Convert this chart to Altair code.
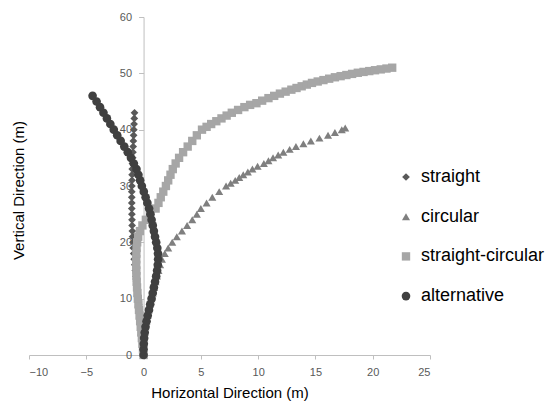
import altair as alt
import pandas as pd

series_names = ["straight", "circular", "straight-circular", "alternative"]
series_colors = ["#595959", "#7f7f7f", "#a6a6a6", "#404040"]
series_shapes = ["diamond", "triangle-up", "square", "circle"]
series_sizes = [60, 75, 120, 115]

x_ticks = [-10, -5, 0, 5, 10, 15, 20, 25]
y_ticks = [0, 10, 20, 30, 40, 50, 60]

straight_x = [0.00, -0.04, -0.08, -0.12, -0.17, -0.22, -0.27, -0.32, -0.37, -0.42,
              -0.47, -0.52, -0.57, -0.62, -0.67, -0.72, -0.77, -0.82, -0.86, -0.90,
              -0.93, -0.96, -0.98, -1.00, -1.01, -1.02, -1.03, -1.03, -1.03, -1.03,
              -1.02, -1.01, -1.00, -0.99, -0.97, -0.95, -0.93, -0.91, -0.89, -0.87,
              -0.85, -0.83, -0.81, -0.79]
straight_y = [0, 1, 2, 3, 4, 5, 6, 7, 8, 9, 10, 11, 12, 13, 14, 15, 16, 17, 18, 19,
              20, 21, 22, 23, 24, 25, 26, 27, 28, 29, 30, 31, 32, 33, 34, 35, 36, 37,
              38, 39, 40, 41, 42, 43]

circular_x = [0.0, 0.01, 0.03, 0.06, 0.1, 0.17, 0.25, 0.35, 0.45, 0.56, 0.68, 0.8,
              0.92, 1.04, 1.17, 1.3, 1.45, 1.6, 1.85, 2.15, 2.5, 2.9, 3.35, 3.8, 4.25,
              4.65, 5.0, 5.5, 6.0, 6.6, 7.2, 7.6, 8.0, 8.35, 8.7, 9.1, 9.5, 9.95, 10.5,
              10.9, 11.3, 11.75, 12.2, 12.75, 13.3, 13.95, 14.6, 15.35, 16.1, 16.7,
              17.3, 17.6]
circular_y = [0, 1, 2, 3, 4, 5, 6, 7, 8, 9, 10, 11, 12, 13, 14, 15, 16, 17, 18, 19,
              20, 21, 22, 23, 24, 25, 26, 27, 28, 29, 30, 30.5, 31, 31.5, 32, 32.5, 33,
              33.5, 34, 34.5, 35, 35.5, 36, 36.5, 37, 37.5, 38, 38.5, 39, 39.5, 40,
              40.3]

sc_x = [0.0, -0.05, -0.1, -0.15, -0.2, -0.25, -0.3, -0.35, -0.4, -0.45, -0.5, -0.54,
        -0.57, -0.6, -0.62, -0.63, -0.64, -0.64, -0.63, -0.61, -0.56, -0.47, -0.32,
        -0.1, 0.2, 0.55, 1.05, 1.3, 1.5, 1.72, 1.95, 2.15, 2.35, 2.55, 2.8, 3.1, 3.45,
        3.85, 4.25, 4.65, 5.1, 5.5, 5.9, 6.35, 6.8, 7.25, 7.7, 8.25, 8.8, 9.3, 9.85,
        10.35, 10.9, 11.4, 11.9, 12.4, 12.9, 13.35, 13.8, 14.25, 14.7, 15.2, 15.7,
        16.2, 16.7, 17.2, 17.7, 18.2, 18.7, 19.2, 19.7, 20.2, 20.7, 21.2, 21.7]
sc_y = [0, 1, 2, 3, 4, 5, 6, 7, 8, 9, 10, 11, 12, 13, 14, 15, 16, 17, 18, 19, 20, 21,
        22, 23, 24, 25, 26, 27, 28, 29, 30, 31, 32, 33, 34, 35, 36, 37, 38, 39, 40,
        40.5, 41, 41.5, 42, 42.5, 43, 43.5, 44, 44.4, 44.7, 45.15, 45.6, 46.0, 46.4,
        46.75, 47.1, 47.4, 47.7, 48.0, 48.3, 48.55, 48.8, 49.05, 49.3, 49.5, 49.7,
        49.9, 50.1, 50.25, 50.4, 50.55, 50.7, 50.85, 51.0]

alt_x = [0.0, 0.0, 0.02, 0.05, 0.1, 0.17, 0.26, 0.36, 0.47, 0.58, 0.7, 0.8, 0.9, 1.0,
         1.1, 1.18, 1.24, 1.27, 1.26, 1.2, 1.1, 1.0, 0.9, 0.8, 0.7, 0.6, 0.48, 0.33,
         0.18, 0.02, -0.15, -0.3, -0.45, -0.62, -0.85, -1.1, -1.38, -1.68, -2.0, -2.3,
         -2.6, -2.9, -3.2, -3.5, -3.8, -4.1, -4.45]
alt_y = [0, 1, 2, 3, 4, 5, 6, 7, 8, 9, 10, 11, 12, 13, 14, 15, 16, 17, 18, 19, 20, 21,
         22, 23, 24, 25, 26, 27, 28, 29, 30, 31, 32, 33, 34, 35, 36, 37, 38, 39, 40, 41,
         42, 43, 44, 45, 46]

rows = []
k = 0
for name, xs, ys in zip(series_names,
                        [straight_x, circular_x, sc_x, alt_x],
                        [straight_y, circular_y, sc_y, alt_y]):
    for xv, yv in zip(xs, ys):
        rows.append({"series": name, "marker": name, "x": xv, "y": yv, "k": k})
        k += 1
df = pd.DataFrame(rows)

W, H = 401, 338
y_offset = -W * 10 / 35

legend_cfg = alt.Legend(
    title=None, orient="none", legendX=368, legendY=151, padding=0,
    labelFont="Liberation Sans", labelFontSize=18, labelColor="#000000",
    labelOffset=6, rowPadding=21.7, symbolSize=45, symbolStrokeWidth=0,
)

chart = alt.Chart(df).mark_point(filled=True, opacity=1, strokeWidth=0).encode(
    x=alt.X("x:Q", scale=alt.Scale(domain=[-10, 25], nice=False, zero=False),
            axis=alt.Axis(values=x_ticks, title="Horizontal Direction (m)", grid=False,
                          domainColor="#bfbfbf", tickColor="#bfbfbf", tickSize=4,
                          labelColor="#595959", labelFont="Liberation Sans",
                          labelFontSize=11, labelPadding=7, titleFont="Liberation Sans",
                          titleFontSize=15, titleFontWeight="normal", titleColor="#000000",
                          titlePadding=8)),
    y=alt.Y("y:Q", scale=alt.Scale(domain=[0, 60], nice=False),
            axis=alt.Axis(values=y_ticks, title="Vertical Direction (m)", grid=False,
                          offset=y_offset, domainColor="#bfbfbf", tickColor="#bfbfbf",
                          tickSize=5, labelColor="#595959", labelFont="Liberation Sans",
                          labelFontSize=11, labelPadding=7, titleFont="Liberation Sans",
                          titleFontSize=15, titleFontWeight="normal", titleColor="#000000",
                          titleX=-3 + y_offset, titleY=173)),
    color=alt.Color("series:N", scale=alt.Scale(domain=series_names, range=series_colors),
                    legend=legend_cfg),
    shape=alt.Shape("series:N", scale=alt.Scale(domain=series_names, range=series_shapes),
                    legend=legend_cfg),
    size=alt.Size("marker:N", scale=alt.Scale(domain=series_names, range=series_sizes),
                  legend=None),
    order=alt.Order("k:Q"),
).properties(
    width=W, height=H,
    autosize=alt.AutoSizeParams(type="none"),
    padding={"left": 29, "top": 17, "right": 120, "bottom": 46},
).configure_view(stroke=None)

chart.save("out.html", embed_options={"renderer": "svg", "actions": False})
